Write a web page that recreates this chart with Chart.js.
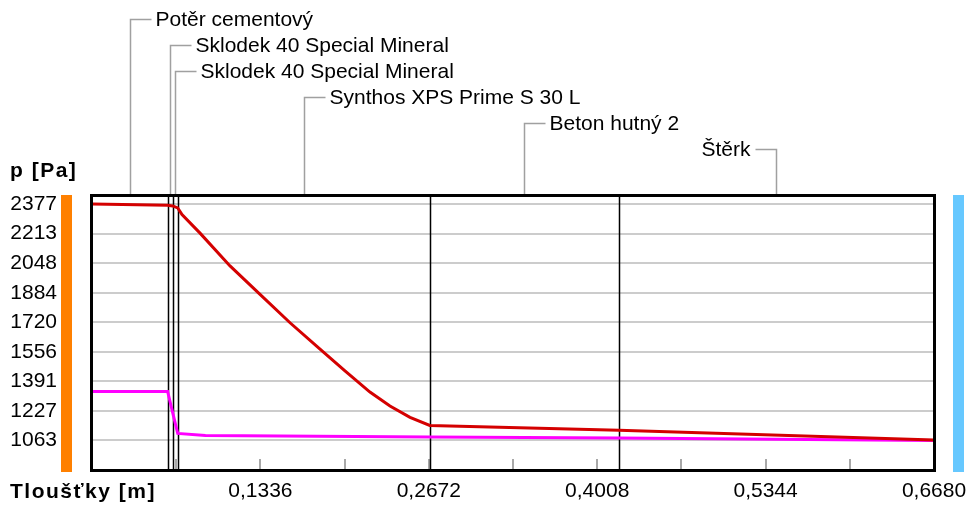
<!DOCTYPE html>
<html>
<head>
<meta charset="utf-8">
<script src="https://cdn.jsdelivr.net/npm/chart.js@4.4.1/dist/chart.umd.min.js"></script>
<style>
  html, body { margin: 0; padding: 0; background: #fff; }
</style>
</head>
<body>
<canvas id="chart" width="970" height="506"></canvas>
<script>
// layers (left = inside, right = ground), boundaries in m
var layerNames = ["Potěr cementový", "Sklodek 40 Special Mineral", "Sklodek 40 Special Mineral",
                  "Synthos XPS Prime S 30 L", "Beton hutný 2", "Štěrk"];
var layerBounds = [0, 0.060, 0.064, 0.068, 0.268, 0.418, 0.668];

// saturated vapour pressure (red)
var satPos = [0, 0.060, 0.064, 0.068, 0.0714, 0.0857, 0.1095, 0.1333, 0.1571, 0.1809, 0.2007, 0.2205, 0.2364, 0.2523, 0.268, 0.418, 0.668];
var satVal = [2377, 2370, 2366, 2355, 2318, 2215, 2033, 1875, 1717, 1571, 1449, 1332, 1254, 1191, 1146, 1119, 1066];

// partial vapour pressure (magenta)
var vapPos = [0, 0.060, 0.064, 0.068, 0.090, 0.268, 0.418, 0.668];
var vapVal = [1335, 1335, 1218, 1102, 1090, 1082, 1076, 1063];

var yTicks = [1063, 1227, 1391, 1556, 1720, 1884, 2048, 2213, 2377];
var xTicks = [0.1336, 0.2672, 0.4008, 0.5344, 0.6680];
var xTickLabels = ["0,1336", "0,2672", "0,4008", "0,5344", "0,6680"];
var xMinorTicks = [0.0668, 0.1336, 0.2004, 0.2672, 0.3340, 0.4008, 0.4676, 0.5344, 0.6012];

function toPoints(xs, ys) {
  return xs.map(function (x, i) { return { x: x, y: ys[i] }; });
}

function noPadding(s) {
  s.paddingLeft = 0; s.paddingRight = 0; s.paddingTop = 0; s.paddingBottom = 0;
}

Chart.defaults.font.family = '"Liberation Sans", Arial, sans-serif';
Chart.defaults.color = '#000';

var decor = {
  id: 'decor',
  beforeDatasetsDraw: function (chart) {
    var ctx = chart.ctx, a = chart.chartArea, xs = chart.scales.x;
    ctx.save();
    // small tick marks on the bottom edge
    ctx.strokeStyle = '#a8a8a8';
    ctx.lineWidth = 2;
    xMinorTicks.forEach(function (v) {
      var px = Math.round(xs.getPixelForValue(v));
      ctx.beginPath();
      ctx.moveTo(px, a.bottom);
      ctx.lineTo(px, a.bottom - 11);
      ctx.stroke();
    });
    // layer boundaries
    ctx.strokeStyle = '#000';
    ctx.lineWidth = 1.5;
    layerBounds.slice(1, -1).forEach(function (v) {
      var px = Math.round(xs.getPixelForValue(v)) + 0.5;
      ctx.beginPath();
      ctx.moveTo(px, a.top);
      ctx.lineTo(px, a.bottom);
      ctx.stroke();
    });
    ctx.restore();
  },
  afterDraw: function (chart) {
    var ctx = chart.ctx, a = chart.chartArea, xs = chart.scales.x;
    ctx.save();

    // frame
    ctx.strokeStyle = '#000';
    ctx.lineWidth = 3;
    ctx.strokeRect(a.left - 0.5, a.top + 0.5, a.right - a.left + 1, a.bottom - a.top);

    // side bars (inside / outside)
    ctx.fillStyle = '#ff8000';
    ctx.fillRect(61, a.top, 11, a.bottom - a.top + 2);
    ctx.fillStyle = '#66c8ff';
    ctx.fillRect(953, a.top, 11, a.bottom - a.top + 2);

    // axis titles
    ctx.fillStyle = '#000';
    ctx.font = 'bold 21px "Liberation Sans", Arial, sans-serif';
    ctx.letterSpacing = '1.5px';
    ctx.textAlign = 'left';
    ctx.textBaseline = 'middle';
    ctx.fillText('p [Pa]', 10, 171);
    ctx.fillText('Tloušťky [m]', 10, 492);
    ctx.letterSpacing = '0px';

    // layer labels with leader lines
    ctx.font = '21px "Liberation Sans", Arial, sans-serif';
    ctx.strokeStyle = '#a0a0a0';
    ctx.lineWidth = 1.5;
    layerNames.forEach(function (name, i) {
      var mid = (layerBounds[i] + layerBounds[i + 1]) / 2;
      var px = Math.round(xs.getPixelForValue(mid)) + 0.5;
      var ry = 19 + 26 * i;
      var toLeft = i === layerNames.length - 1;
      ctx.beginPath();
      ctx.moveTo(px, a.top - 1);
      ctx.lineTo(px, ry + 0.5);
      ctx.lineTo(toLeft ? px - 21 : px + 21, ry + 0.5);
      ctx.stroke();
      ctx.textAlign = toLeft ? 'right' : 'left';
      ctx.fillText(name, toLeft ? px - 26 : px + 25, ry + 1);
    });

    ctx.restore();
  }
};

new Chart(document.getElementById('chart'), {
  type: 'line',
  data: {
    datasets: [
      {
        label: 'p,sat',
        data: toPoints(satPos, satVal),
        borderColor: '#d40000',
        borderWidth: 3,
        pointRadius: 0,
        tension: 0
      },
      {
        label: 'p',
        data: toPoints(vapPos, vapVal),
        borderColor: '#ff00ff',
        borderWidth: 3,
        pointRadius: 0,
        tension: 0
      }
    ]
  },
  options: {
    responsive: false,
    animation: false,
    devicePixelRatio: 1,
    layout: { padding: { left: 0, top: 195, right: 36, bottom: 0 } },
    plugins: { legend: { display: false }, tooltip: { enabled: false } },
    scales: {
      x: {
        type: 'linear',
        min: 0,
        max: 0.668,
        grid: { display: false, drawTicks: false },
        border: { display: false },
        afterFit: function (s) { s.height = 36; noPadding(s); },
        afterBuildTicks: function (s) {
          s.ticks = xTicks.map(function (v) { return { value: v }; });
        },
        ticks: {
          autoSkip: false,
          maxRotation: 0,
          padding: 9,
          font: { size: 21 },
          callback: function (v, i) { return xTickLabels[i]; }
        }
      },
      y: {
        min: 898.75,
        max: 2427,
        grid: { color: '#cccccc', lineWidth: 2, drawTicks: false },
        border: { display: false },
        afterFit: function (s) { s.width = 92; noPadding(s); },
        afterBuildTicks: function (s) {
          s.ticks = yTicks.map(function (v) { return { value: v }; });
        },
        ticks: {
          padding: 35,
          font: { size: 21 },
          callback: function (v) { return String(v); }
        }
      }
    }
  },
  plugins: [decor]
});
</script>
</body>
</html>
